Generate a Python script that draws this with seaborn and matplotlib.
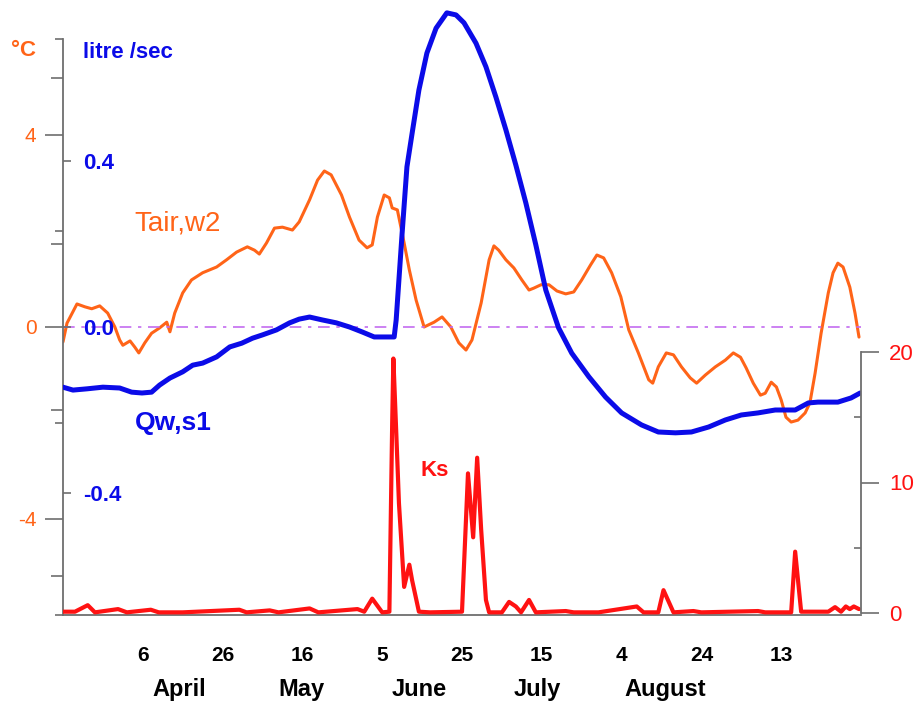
import matplotlib
matplotlib.use("Agg")
import matplotlib.pyplot as plt
import seaborn as sns

# x = days counted from 17 March
tair_day = [0, 1, 3.5, 5.5, 7.2, 9.2, 11.2, 13, 14.2, 15,
            16.8, 18, 19, 20.5, 22.2, 24.2, 26, 26.8, 28, 30,
            32.2, 35, 38.5, 41, 43.5, 46.2, 48, 49.2, 51, 53,
            55, 57.5, 59.2, 61.8, 63.8, 65.5, 67.2, 69.8, 71.8, 74.2,
            76.2, 77.5, 78.8, 80.5, 81.8, 82.5, 83.8, 85.5, 86.8, 88.5,
            90.5, 93, 95, 97.2, 99.2, 101, 102.5, 104.8, 106.8, 108,
            109.2, 111, 113, 115, 116.8, 118, 119.8, 121.8, 123.8, 126,
            128, 130, 132.2, 133.8, 135.5, 137.5, 139.8, 141.8, 144.2, 146.8,
            147.8, 149.2, 151.2, 153, 155, 157.2, 158.8, 161, 163.5, 166,
            168, 169.8, 171.2, 173, 174.8, 176, 177.5, 178.8, 180, 181.2,
            182.5, 184.2, 186, 187.2, 188.5, 190, 191.8, 193, 194.2, 195.5,
            197.2, 198.5, 199.5]
tair_degc = [-0.31, 0.08, 0.48, 0.42, 0.38, 0.44, 0.29, 0.0, -0.27, -0.38,
             -0.29, -0.42, -0.54, -0.33, -0.13, -0.02, 0.10, -0.10, 0.29, 0.71,
             0.98, 1.13, 1.25, 1.40, 1.56, 1.67, 1.60, 1.52, 1.75, 2.06,
             2.08, 2.02, 2.19, 2.65, 3.06, 3.25, 3.17, 2.75, 2.29, 1.81,
             1.65, 1.71, 2.29, 2.75, 2.69, 2.48, 2.44, 1.75, 1.19, 0.56,
             0.0, 0.10, 0.21, 0.0, -0.33, -0.48, -0.27, 0.50, 1.40, 1.69,
             1.60, 1.40, 1.23, 0.98, 0.77, 0.81, 0.88, 0.88, 0.75, 0.69,
             0.73, 0.98, 1.29, 1.50, 1.44, 1.13, 0.63, -0.06, -0.54, -1.10,
             -1.17, -0.83, -0.54, -0.58, -0.83, -1.06, -1.17, -1.0, -0.83, -0.69,
             -0.54, -0.63, -0.85, -1.17, -1.42, -1.38, -1.15, -1.25, -1.52, -1.88,
             -1.98, -1.94, -1.79, -1.58, -0.96, -0.13, 0.71, 1.13, 1.33, 1.25,
             0.83, 0.29, -0.21]

qw_day = [0, 2.5, 6, 10, 14.2, 17.2, 19.8, 22.2, 24.2, 26.8,
          30, 32.5, 35, 38.5, 41.8, 44.8, 47.5, 50, 53.5, 56.8,
          59.2, 61.8, 65, 68.5, 71.8, 75, 78, 83, 83.5, 85,
          86.2, 87.5, 89.2, 91.2, 93.5, 96.2, 98.5, 100.5, 103.5, 106,
          108.5, 111, 113.5, 116, 118.5, 121, 124.2, 127.5, 131.8, 136,
          140, 145, 149.2, 153.5, 157.5, 161.8, 166, 170, 174.2, 178.5,
          183.5, 186.8, 189.2, 194.2, 197.5, 199.8]
qw_lps = [-0.145, -0.152, -0.149, -0.145, -0.147, -0.157, -0.159, -0.157, -0.140, -0.123,
          -0.108, -0.092, -0.087, -0.072, -0.048, -0.039, -0.027, -0.019, -0.007, 0.010,
          0.019, 0.024, 0.017, 0.010, 0.0, -0.012, -0.024, -0.024, 0.017, 0.227,
          0.386, 0.467, 0.571, 0.660, 0.720, 0.757, 0.752, 0.733, 0.684, 0.627,
          0.554, 0.475, 0.390, 0.299, 0.198, 0.089, -0.002, -0.063, -0.120, -0.169,
          -0.207, -0.236, -0.253, -0.255, -0.253, -0.241, -0.224, -0.212, -0.207, -0.200,
          -0.200, -0.183, -0.181, -0.181, -0.171, -0.159]

ks_day = [0, 3, 6.2, 8, 13.8, 16, 22, 24, 30, 44.2,
          46, 51.8, 54, 61.8, 64, 73.8, 75.5, 77.5, 80, 81.8,
          82.5, 82.8, 83.5, 84.2, 85.5, 86.8, 87.5, 89.2, 92, 100,
          101.5, 102.8, 103.8, 104.8, 106, 106.8, 110, 111.8, 113.5, 114.8,
          116.8, 118.5, 126, 128, 134.2, 143.8, 145.5, 149.2, 150.5, 153,
          158, 160, 174.2, 176, 182.5, 183.5, 185, 191.8, 193.5, 195,
          196.2, 197.2, 198.2, 199.5]
ks_val = [0.1, 0.1, 0.6, 0.05, 0.3, 0.05, 0.25, 0.05, 0.05, 0.25,
          0.05, 0.2, 0.05, 0.35, 0.05, 0.3, 0.1, 1.1, 0.05, 0.1,
          14.5, 19.5, 14, 8.4, 2.0, 3.7, 2.5, 0.1, 0.05, 0.1,
          10.7, 5.8, 11.9, 6.4, 1.0, 0.05, 0.05, 0.85, 0.5, 0.05,
          1.0, 0.05, 0.15, 0.05, 0.05, 0.5, 0.05, 0.05, 1.75, 0.05,
          0.15, 0.05, 0.15, 0.05, 0.05, 4.7, 0.1, 0.1, 0.45, 0.1,
          0.5, 0.3, 0.5, 0.3]

xtick_days = [0, 20, 40, 60, 80, 100, 120, 140, 160, 180, 200]
xtick_labels = ["", "6", "26", "16", "5", "25", "15", "4", "24", "13", ""]
month_names = ["April", "May", "June", "July", "August"]
month_pos = [29.25, 59.75, 89.25, 118.75, 151]

ORANGE = "#FF6418"
BLUE = "#0B0BE8"
RED = "#FF1212"
AXIS = "#6E6E6E"

sns.set_style("white")
plt.rcParams["font.family"] = ["Liberation Sans", "DejaVu Sans"]

fig = plt.figure(figsize=(9.18, 7.04), dpi=100)
ax = fig.add_axes([63 / 918, 1 - 615 / 704, 798 / 918, 608 / 704])

# air temperature (°C, left scale)
sns.lineplot(x=tair_day, y=tair_degc, ax=ax, color=ORANGE, linewidth=2.2)
ax.axhline(0, color="#C46CF0", linewidth=1.2, linestyle=(0, (7, 4, 2, 4)))
ax.set_xlim(0, 200)
ax.set_ylim(-6, -6 + 608 / 48)
ax.set_xlabel("")
ax.set_ylabel("")
for side in ("top", "right"):
    ax.spines[side].set_visible(False)
ax.spines["left"].set_bounds(-6, 6)
for side in ("left", "bottom"):
    ax.spines[side].set_color(AXIS)
    ax.spines[side].set_linewidth(1.3)

ax.set_yticks([-4, 0, 4])
ax.set_yticklabels(["-4", "0", "4"], color=ORANGE, fontsize=15)
ax.set_yticks([-6, -2, 2, 6], minor=True)
ax.tick_params(axis="y", which="major", length=13, width=1.2, color=AXIS, pad=6)
ax.tick_params(axis="y", which="minor", length=6, width=1.2, color=AXIS)

ax.set_xticks(xtick_days)
ax.set_xticklabels(xtick_labels, fontsize=15, fontweight="bold", color="black")
ax.set_xticks(range(10, 200, 20), minor=True)
ax.tick_params(axis="x", which="major", length=13, width=1.2, color=AXIS, pad=9)
ax.tick_params(axis="x", which="minor", length=7, width=1.2, color=AXIS)
for name, pos in zip(month_names, month_pos):
    ax.text(pos, -0.123, name, transform=ax.get_xaxis_transform(), color="black",
            ha="center", va="center", fontsize=17, fontweight="bold")

# discharge (litre/sec, inner left scale)
ax_q = ax.twinx()
sns.lineplot(x=qw_day, y=qw_lps, ax=ax_q, color=BLUE, linewidth=3.6)
ax_q.set_ylim(-288 / 415, 320 / 415)
ax_q.set_ylabel("")
for side in ax_q.spines:
    ax_q.spines[side].set_visible(False)
ax_q.yaxis.tick_left()
ax_q.set_yticks([-0.4, 0.0, 0.4])
ax_q.set_yticklabels(["-0.4", "0.0", "0.4"], color=BLUE, fontsize=16,
                     fontweight="bold")
ax_q.set_yticks([-0.6, -0.2, 0.2, 0.6], minor=True)
ax_q.tick_params(axis="y", which="major", direction="in", length=6, width=1.2,
                 color=AXIS, pad=-14.5)
ax_q.tick_params(axis="y", which="minor", direction="out", length=9, width=1.2,
                 color=AXIS)
for lbl in ax_q.get_yticklabels():
    lbl.set_horizontalalignment("left")

# Ks (right scale)
ax_k = ax.twinx()
sns.lineplot(x=ks_day, y=ks_val, ax=ax_k, color=RED, linewidth=3)
ax_k.set_ylim(-2 / 13.05, 606 / 13.05)
ax_k.set_ylabel("")
for side in ("top", "left", "bottom"):
    ax_k.spines[side].set_visible(False)
ax_k.spines["right"].set_bounds(0, 20)
ax_k.spines["right"].set_color(AXIS)
ax_k.spines["right"].set_linewidth(1.3)
ax_k.set_yticks([0, 10, 20])
ax_k.set_yticklabels(["0", "10", "20"], color=RED, fontsize=16)
ax_k.set_yticks([5, 15], minor=True)
ax_k.tick_params(axis="y", which="major", length=13, width=1.2, color=AXIS, pad=7)
ax_k.tick_params(axis="y", which="minor", direction="in", length=5, width=1.2,
                 color=AXIS)

# series labels and units
ax.text(28.75, 2.15, "Tair,w2", color=ORANGE, fontsize=20, ha="center", va="center")
ax.text(27.75, -2.0, "Qw,s1", color=BLUE, fontsize=19, fontweight="bold",
        ha="center", va="center")
ax.text(93.25, -2.98, "Ks", color=RED, fontsize=16, fontweight="bold",
        ha="center", va="center")
fig.text(24 / 918, 1 - 51 / 704, "°C", color=ORANGE, fontsize=16,
         fontweight="bold", ha="center", va="center")
fig.text(83 / 918, 1 - 52 / 704, "litre /sec", color=BLUE, fontsize=16,
         fontweight="bold", ha="left", va="center")

fig.savefig("out.png", dpi=100)
